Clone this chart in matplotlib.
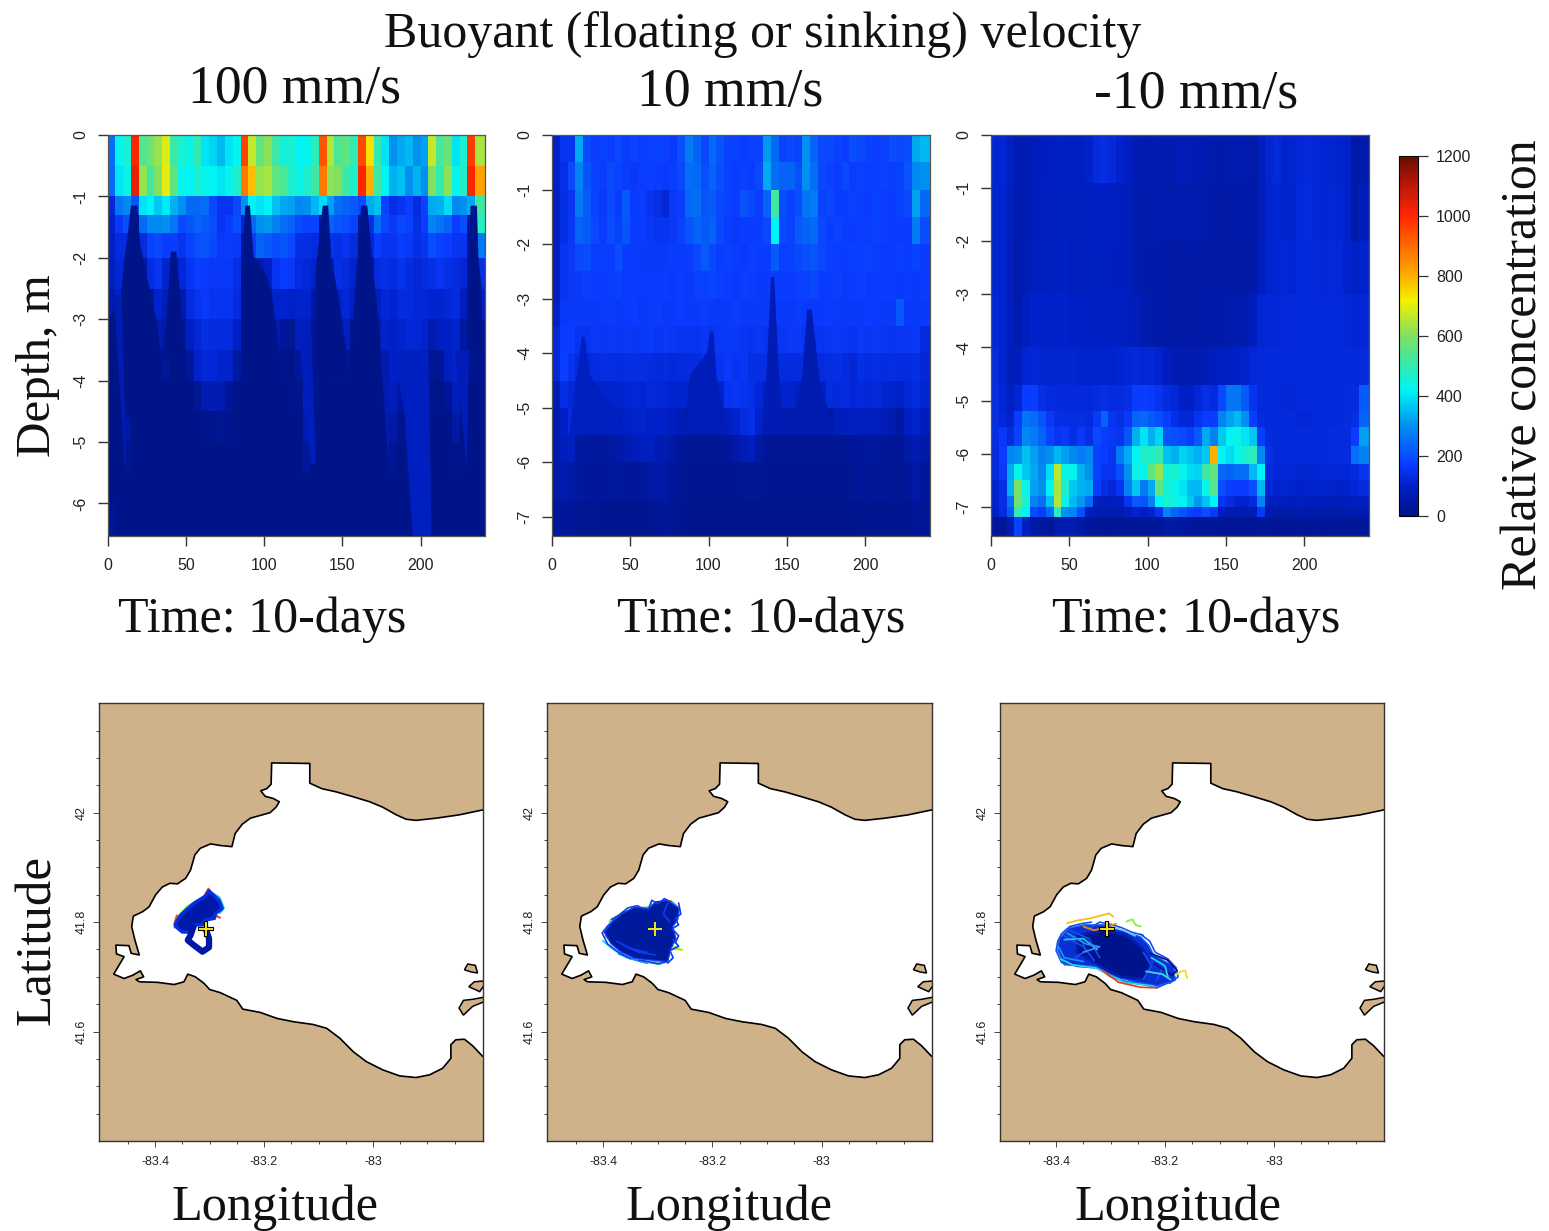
import matplotlib
matplotlib.use('Agg')
import matplotlib.pyplot as plt
from matplotlib.colors import LinearSegmentedColormap, Normalize
from matplotlib.patches import Rectangle
import numpy as np

W, H = 1549, 1231
SERIF = 'Liberation Serif'
SANS = 'Liberation Sans'

# colour bar
bar_stops = [0, 100, 170, 300, 420, 520, 600, 720, 820, 1000, 1100, 1200]
bar_colors = ['#00148a', '#0020c8', '#0a3cff', '#0090f0', '#00f5f5', '#40e8a0', '#80e060', '#f4f000', '#ffa000', '#ff2800', '#c01808', '#6a0c00']

# time bins shared by the three depth panels
time_edges = list(range(0, 240, 5)) + [242]

# 100 mm/s
depth_edges_1 = [0, -0.5, -1, -1.3, -1.6, -2, -2.5, -3, -3.5, -4, -4.5, -5, -5.5, -6, -6.53]
conc_1 = [
    [250,430,460,1010,540,580,620,690,520,460,440,500,400,380,350,400,430,960,670,560,610,520,450,460,420,430,490,930,650,530,560,500,950,740,500,400,300,330,350,300,320,670,530,570,400,460,970,640],
    [240,400,440,1040,620,520,600,700,560,430,420,460,430,420,400,430,470,880,780,620,640,560,530,470,440,470,520,880,610,600,520,470,1000,800,520,420,340,360,300,340,300,600,500,610,430,470,1010,820],
    [120,260,290,210,400,420,370,410,340,300,240,240,250,190,150,150,190,300,420,400,420,360,330,320,290,300,350,390,320,250,230,220,190,330,360,180,140,150,170,130,180,330,340,390,290,300,330,520],
    [110,160,200,15,240,290,290,300,260,190,210,230,220,200,150,170,200,120,240,300,310,280,250,230,190,180,180,30,230,210,200,180,15,140,250,190,160,190,180,140,170,280,260,230,170,200,30,480],
    [100,130,130,10,130,180,190,170,170,150,180,200,210,190,160,170,160,40,170,230,220,200,210,190,140,140,130,15,150,140,150,130,10,120,170,150,150,170,160,140,150,200,180,170,150,150,20,270],
    [90,120,110,5,40,130,150,110,40,120,150,170,170,160,160,160,140,15,40,60,100,150,170,160,130,120,110,10,90,140,130,110,5,30,130,140,130,150,130,120,130,140,150,140,130,120,15,140],
    [60,110,100,0,10,30,110,80,15,60,130,150,160,150,150,150,130,5,10,10,20,110,110,100,110,110,40,0,20,110,120,90,0,5,90,120,110,130,130,120,120,110,110,120,130,80,5,100],
    [5,10,90,0,0,5,70,50,5,20,90,120,140,130,130,130,100,0,0,0,0,60,30,15,90,90,10,0,0,60,90,10,0,0,60,110,100,110,120,120,110,60,90,100,110,40,0,20],
    [0,5,70,0,0,0,5,20,0,0,30,110,120,120,110,110,40,0,0,0,0,20,5,0,30,100,5,0,0,5,20,0,0,0,20,100,100,90,110,120,80,10,20,90,110,10,0,5],
    [0,0,50,0,0,0,0,0,0,0,0,15,70,70,60,20,0,0,0,0,0,0,0,0,5,90,5,0,0,0,0,0,0,0,5,60,80,30,70,100,50,5,0,20,80,5,0,0],
    [0,0,40,0,0,0,0,0,0,0,0,0,5,5,15,5,0,0,0,0,0,0,0,0,0,70,5,0,0,0,0,0,0,0,0,25,50,5,30,90,80,0,0,0,50,0,0,0],
    [0,0,10,0,0,0,0,0,0,0,0,0,0,0,0,0,0,0,0,0,0,0,0,0,0,30,0,0,0,0,0,0,0,0,0,0,10,0,10,60,60,0,0,0,5,0,0,0],
    [0,0,0,0,0,0,0,0,0,0,0,0,0,0,0,0,0,0,0,0,0,0,0,0,0,0,0,0,0,0,0,0,0,0,0,0,0,0,0,40,50,0,0,0,0,0,0,0],
    [20,0,0,0,0,0,0,0,0,0,0,0,0,0,0,0,0,0,0,0,0,0,0,0,0,0,0,0,0,0,0,0,0,0,0,0,0,0,0,30,40,0,0,0,0,0,0,0],
]
# wedges of almost empty water and the thin streaks inside them: (time, depth)
wedges_1 = [
    [(15,-1.15),(19,-1.15),(21,-1.8),(25,-2.3),(28,-2.6),(32,-3.1),(35,-3.9),(35,-4.6),(3,-4.6),(1,-3.0),(8,-2.7),(11,-2.0),(13,-1.6)],
    [(40.5,-1.9),(44,-1.9),(47,-2.8),(50,-3.6),(36,-3.6)],
    [(88,-1.15),(91,-1.15),(93.5,-2),(102,-2.3),(105,-2.6),(110,-3.6),(112,-4.5),(86,-4.5),(85.5,-2.2)],
    [(137.5,-1.15),(141,-1.15),(143,-2),(148,-2.7),(152,-3.4),(155,-4),(135,-4),(133,-3.0),(133,-2.2)],
    [(162,-1.15),(166,-1.15),(169,-2),(173,-3),(178,-4.5),(180,-5.5),(150,-5.5),(156,-3.5),(159,-2.2),(161,-1.7)],
    [(232,-1.15),(236,-1.15),(237,-2),(239,-2.5),(240,-3.5),(230,-3.5),(231,-2)],
]
wedge_levels_1 = [0, 0, 0, 0, 0, 0]
streaks_1 = [
    [(4,-2.6),(9,-2.6),(12,-5.37),(11,-5.37)],
    [(121,-3.0),(130,-3.0),(133,-5.35),(130,-5.35)],
    [(222,-3.5),(231,-3.5),(229.5,-5.4)],
    [(174,-3.5),(180,-3.5),(180,-5.4)],
    [(183,-3.5),(205,-3.5),(207,-6.53),(195,-6.53),(190,-4.6)],
]
streak_levels_1 = [70, 80, 75, 60, 90]

# 10 mm/s
depth_edges_2 = [0, -0.5, -1, -1.5, -2, -2.5, -3, -3.5, -4, -4.5, -5, -5.5, -6, -6.7, -7.35]
conc_2 = [
    [100,150,150,330,190,170,180,170,190,170,180,170,175,180,175,165,200,270,230,190,240,210,180,180,170,175,180,310,240,180,190,180,300,230,190,190,180,170,200,190,180,170,180,200,190,200,330,350],
    [100,145,190,280,210,180,170,190,180,170,160,170,175,170,165,170,190,250,240,200,230,200,180,170,175,170,190,330,250,230,230,200,300,250,190,180,170,190,170,180,170,175,180,170,180,210,290,300],
    [90,140,150,270,220,180,160,190,170,220,170,170,150,140,120,160,170,240,250,210,220,190,180,170,210,190,170,230,520,200,180,200,260,270,180,190,170,170,180,170,170,180,170,170,180,190,320,240],
    [90,140,160,230,220,190,170,200,180,210,170,170,160,150,150,160,180,210,230,220,230,190,170,160,170,170,170,190,420,190,180,220,230,240,190,170,180,170,170,175,170,180,170,170,170,170,270,200],
    [90,150,160,190,200,170,175,170,200,170,170,165,160,160,165,170,170,170,190,220,190,170,175,170,165,175,170,170,220,175,180,190,200,210,190,175,170,170,175,170,180,170,165,170,175,170,180,170],
    [90,150,160,165,175,170,170,170,180,165,170,165,170,165,170,165,170,165,175,180,185,175,170,165,175,170,165,165,170,170,170,175,180,190,170,170,175,165,170,175,165,170,170,170,165,170,165,170],
    [100,160,165,160,165,160,165,170,160,165,170,160,165,170,160,165,170,165,165,170,165,160,165,170,165,160,165,165,165,160,165,170,165,165,165,170,165,160,165,165,170,165,165,160,215,165,160,165],
    [120,170,170,150,150,160,155,160,155,160,155,160,165,155,160,155,150,150,150,155,150,160,165,160,155,150,155,150,150,155,160,160,150,150,150,155,160,155,150,160,155,160,155,150,155,155,160,130],
    [120,175,150,130,125,130,135,135,130,135,135,135,130,125,130,125,130,130,130,140,130,150,165,150,155,140,140,140,130,130,130,130,130,130,130,135,140,130,120,140,130,140,130,135,130,130,140,120],
    [70,140,120,110,110,115,110,110,110,115,120,115,125,120,115,110,110,105,105,105,110,110,150,155,150,145,120,100,90,110,110,100,100,100,100,130,125,130,120,125,120,125,115,110,105,120,130,115],
    [60,100,130,50,50,60,65,70,85,95,105,110,100,105,95,85,70,40,30,30,30,50,90,110,130,145,110,30,50,60,60,40,25,20,25,45,80,85,90,85,90,80,70,60,40,95,110,80],
    [60,80,90,40,35,35,30,40,50,60,75,85,90,70,65,50,30,20,15,15,15,20,30,50,70,85,40,20,15,15,15,15,15,15,15,15,15,20,30,30,35,30,25,20,20,50,70,50],
    [50,60,50,35,30,25,30,25,35,30,30,25,40,55,45,25,15,10,10,10,10,10,10,10,15,15,15,10,10,10,10,10,10,10,10,10,10,10,15,25,20,25,25,20,15,25,50,30],
    [30,25,30,15,10,15,10,10,10,10,10,10,10,20,25,15,10,5,5,5,5,5,5,5,5,5,5,5,5,5,5,5,5,5,5,5,5,5,5,10,10,10,10,10,10,10,20,15],
]
wedges_2 = [
    [(19,-3.7),(21,-3.7),(24,-4.4),(40,-5.0),(45,-5.5),(11,-5.5),(15,-4.6)],
    [(101,-3.6),(103,-3.6),(105,-4.4),(109,-5.0),(113,-5.5),(85,-5.5),(88,-4.4),(99,-4.0)],
    [(140,-2.6),(142,-2.6),(145,-4.4),(148,-5.5),(134,-5.5),(137,-4.4)],
    [(163,-3.2),(166,-3.2),(171,-4.5),(178,-5.2),(180,-5.5),(152,-5.5),(160,-4.4)],
]
wedge_levels_2 = [90, 75, 70, 65]

# -10 mm/s
depth_edges_3 = [0, -0.9, -2, -3, -4, -4.7, -5.2, -5.5, -5.85, -6.2, -6.5, -6.8, -7.0, -7.2, -7.55]
conc_3 = [
    [115,115,90,70,65,75,85,85,95,90,90,90,105,130,135,125,105,95,70,60,65,70,60,70,75,70,70,65,55,55,60,60,60,55,80,115,125,110,115,120,125,120,115,115,110,105,50,60],
    [115,110,90,65,65,75,85,90,90,90,90,90,90,95,95,90,85,80,65,55,60,65,55,60,65,60,60,55,50,50,50,55,55,50,75,110,115,110,110,125,130,120,115,120,115,105,55,80],
    [115,110,85,60,70,85,90,90,90,95,85,90,90,90,90,85,85,80,65,55,55,55,50,50,50,50,55,50,50,50,50,50,50,55,85,110,115,120,115,125,125,125,120,125,120,110,95,110],
    [120,110,85,60,90,105,105,100,105,105,100,100,95,95,95,95,90,85,80,65,55,55,50,50,50,50,50,55,55,55,60,60,65,85,115,120,120,125,125,125,125,125,125,125,125,120,115,120],
    [130,110,80,80,115,120,115,115,115,115,115,110,110,110,110,110,115,120,125,120,120,110,85,70,60,60,65,70,85,90,95,100,110,120,125,125,125,125,125,125,125,125,125,125,125,125,125,130],
    [135,115,90,115,170,170,140,130,125,125,125,125,125,130,140,130,130,140,170,170,165,150,130,120,100,100,120,140,130,190,260,260,220,150,125,125,125,120,120,125,125,125,125,125,125,130,130,220],
    [140,120,110,170,260,250,210,160,140,140,135,135,130,160,230,150,140,160,230,240,220,200,170,140,120,120,150,170,170,280,320,350,300,170,130,125,125,125,125,120,120,125,125,125,125,130,140,230],
    [140,160,130,180,290,270,230,180,150,160,140,160,140,190,170,160,150,210,340,400,340,380,210,200,190,170,220,330,280,370,420,440,400,370,170,130,125,125,125,125,125,125,125,130,130,130,170,320],
    [130,170,290,300,360,320,280,300,350,320,290,270,290,180,170,150,270,330,420,470,470,500,360,340,380,360,340,370,800,420,390,430,460,490,290,140,125,125,125,125,125,125,125,130,130,130,250,280],
    [130,160,330,430,370,330,290,390,660,440,430,340,300,180,150,150,200,300,440,430,560,620,450,460,430,390,380,520,560,240,230,250,250,350,420,130,120,120,120,115,115,115,120,120,120,120,130,150],
    [110,140,340,590,440,320,300,420,640,470,370,340,330,170,140,120,150,280,370,270,330,560,450,430,400,350,350,440,540,200,170,170,170,200,350,120,110,115,110,105,110,110,110,110,100,110,120,130],
    [110,140,260,580,460,280,250,360,650,430,350,310,240,90,80,80,90,150,220,210,280,420,460,440,420,370,310,360,420,150,130,110,110,130,280,80,90,80,80,90,80,80,80,80,75,80,85,90],
    [100,130,220,500,420,190,170,240,480,300,280,200,80,70,60,60,60,80,110,90,110,150,280,230,210,180,170,200,160,90,70,65,60,70,160,60,55,55,55,60,55,55,55,55,55,60,65,65],
    [25,25,70,180,90,50,40,30,60,70,60,50,30,25,20,20,25,25,25,25,25,30,50,45,35,30,30,25,25,20,20,20,20,20,25,25,20,20,20,25,20,25,20,25,25,25,25,30],
]

# western Lake Erie shoreline
shore_lon = [-82.799,-82.842,-82.884,-82.921,-82.939,-82.957,-82.982,-83.006,-83.036,-83.067,-83.094,-83.116,-83.116,-83.186,-83.187,-83.195,-83.206,-83.198,-83.183,-83.172,-83.178,-83.189,-83.207,-83.225,-83.240,-83.253,-83.259,-83.280,-83.298,-83.317,-83.327,-83.335,-83.344,-83.359,-83.373,-83.387,-83.399,-83.411,-83.423,-83.440,-83.443,-83.437,-83.429,-83.444,-83.448,-83.472,-83.471,-83.457,-83.464,-83.476,-83.457,-83.441,-83.427,-83.421,-83.435,-83.429,-83.396,-83.365,-83.347,-83.340,-83.326,-83.310,-83.300,-83.280,-83.250,-83.239,-83.207,-83.176,-83.146,-83.110,-83.085,-83.061,-83.036,-83.012,-82.982,-82.951,-82.921,-82.896,-82.872,-82.857,-82.857,-82.848,-82.832,-82.817,-82.799]
shore_lat = [42.005,41.996,41.990,41.986,41.988,41.996,42.010,42.020,42.029,42.038,42.044,42.054,42.090,42.091,42.052,42.044,42.040,42.030,42.026,42.020,42.010,42.000,41.995,41.990,41.979,41.962,41.938,41.940,41.943,41.935,41.923,41.895,41.880,41.870,41.871,41.864,41.850,41.828,41.819,41.811,41.792,41.767,41.740,41.743,41.757,41.758,41.742,41.737,41.725,41.705,41.697,41.703,41.711,41.700,41.695,41.691,41.690,41.686,41.691,41.705,41.700,41.688,41.677,41.671,41.657,41.641,41.635,41.624,41.618,41.613,41.606,41.588,41.563,41.545,41.530,41.519,41.516,41.521,41.533,41.551,41.576,41.585,41.586,41.574,41.555]

islands = [
    [(-82.826,41.7235),(-82.812,41.721),(-82.808,41.707),(-82.820,41.709),(-82.832,41.713)],
    [(-82.79,41.693),(-82.814,41.691),(-82.824,41.682),(-82.804,41.673),(-82.79,41.693)],
    [(-82.79,41.664),(-82.817,41.659),(-82.834,41.657),(-82.842,41.643),(-82.834,41.630),(-82.817,41.646),(-82.79,41.657)],
]

release_lon, release_lat = -83.306, 41.787

# particle clouds, outlines and the tracks that stick out of them
cloud_1 = [(-83.362,41.798),(-83.353,41.813),(-83.329,41.834),(-83.307,41.848),(-83.301,41.857),(-83.283,41.840),(-83.277,41.825),(-83.289,41.816),(-83.291,41.807),(-83.307,41.804),(-83.313,41.795),(-83.332,41.795),(-83.332,41.782),(-83.350,41.782),(-83.362,41.792)]
loop_1 = [(-83.330,41.790),(-83.335,41.776),(-83.340,41.767),(-83.329,41.758),(-83.313,41.746),(-83.301,41.754),(-83.301,41.770),(-83.305,41.782)]
tracks_1 = [
    [(-83.365,41.790),(-83.360,41.807),(-83.342,41.828),(-83.322,41.840)],
    [(-83.309,41.849),(-83.302,41.861),(-83.295,41.850)],
    [(-83.295,41.853),(-83.282,41.845),(-83.274,41.826),(-83.281,41.817)],
    [(-83.365,41.795),(-83.360,41.812)],
    [(-83.288,41.812),(-83.281,41.808)],
]
track_colors_1 = ['#7fe84a', '#f04a1a', '#19c8f0', '#f04a1a', '#f04a1a']

cloud_2 = [(-83.398,41.782),(-83.383,41.801),(-83.365,41.816),(-83.343,41.827),(-83.316,41.825),(-83.304,41.837),(-83.282,41.840),(-83.261,41.825),(-83.264,41.804),(-83.273,41.792),(-83.267,41.770),(-83.276,41.752),(-83.282,41.728),(-83.316,41.731),(-83.343,41.734),(-83.368,41.746),(-83.386,41.761)]
tracks_2 = [
    [(-83.401,41.766),(-83.380,41.749),(-83.359,41.736),(-83.331,41.728),(-83.295,41.723)],
    [(-83.279,41.758),(-83.255,41.749),(-83.276,41.752)],
    [(-83.389,41.801),(-83.368,41.816),(-83.340,41.825),(-83.316,41.828)],
    [(-83.295,41.836),(-83.276,41.839),(-83.261,41.825),(-83.264,41.807)],
    [(-83.313,41.834),(-83.304,41.825),(-83.289,41.840),(-83.270,41.834),(-83.263,41.816),(-83.276,41.798),(-83.270,41.773)],
    [(-83.398,41.785),(-83.394,41.773),(-83.376,41.757)],
    [(-83.372,41.742),(-83.345,41.732),(-83.320,41.725)],
    [(-83.310,41.727),(-83.285,41.729)],
]
track_colors_2 = ['#19d8e8', '#a8ee30', '#7fe84a', '#f08018', '#19c8f0', '#e84020', '#1890f0', '#f09018']
fringe_2 = [
    [(-83.385,41.805),(-83.372,41.812),(-83.355,41.826),(-83.338,41.830),(-83.325,41.824)],
    [(-83.318,41.822),(-83.311,41.840),(-83.300,41.833),(-83.288,41.843),(-83.276,41.836)],
    [(-83.262,41.835),(-83.258,41.815),(-83.268,41.806),(-83.262,41.795),(-83.274,41.788),(-83.262,41.775),(-83.268,41.762)],
    [(-83.272,41.768),(-83.262,41.756),(-83.278,41.748),(-83.272,41.735),(-83.282,41.725)],
    [(-83.285,41.727),(-83.300,41.724),(-83.318,41.728),(-83.335,41.731)],
    [(-83.350,41.733),(-83.372,41.745),(-83.392,41.760),(-83.402,41.780),(-83.392,41.793),(-83.378,41.806)],
    [(-83.375,41.765),(-83.350,41.752),(-83.320,41.745)],
    [(-83.362,41.757),(-83.335,41.745),(-83.305,41.740)],
    [(-83.282,41.835),(-83.290,41.815),(-83.278,41.800)],
]

cloud_3 = [(-83.394,41.770),(-83.376,41.789),(-83.349,41.795),(-83.312,41.795),(-83.282,41.786),(-83.245,41.773),(-83.230,41.758),(-83.221,41.740),(-83.184,41.719),(-83.181,41.694),(-83.215,41.683),(-83.257,41.691),(-83.300,41.703),(-83.327,41.719),(-83.385,41.722),(-83.397,41.749)]
core_3 = [(-83.360,41.776),(-83.312,41.785),(-83.269,41.775),(-83.240,41.750),(-83.226,41.722),(-83.240,41.695),(-83.282,41.700),(-83.324,41.722),(-83.362,41.745)]
tracks_3 = [
    [(-83.380,41.798),(-83.361,41.803),(-83.337,41.807),(-83.303,41.816),(-83.295,41.810)],
    [(-83.181,41.703),(-83.172,41.709),(-83.163,41.712),(-83.159,41.697)],
    [(-83.271,41.801),(-83.260,41.805),(-83.254,41.795),(-83.245,41.792)],
    [(-83.227,41.743),(-83.196,41.731),(-83.178,41.712),(-83.187,41.703),(-83.221,41.725)],
    [(-83.392,41.733),(-83.370,41.722),(-83.327,41.716),(-83.275,41.690),(-83.221,41.683)],
    [(-83.385,41.768),(-83.350,41.770),(-83.325,41.750)],
    [(-83.396,41.755),(-83.385,41.735),(-83.350,41.728)],
    [(-83.350,41.792),(-83.330,41.785),(-83.312,41.790),(-83.290,41.797)],
    [(-83.315,41.712),(-83.285,41.690),(-83.245,41.681),(-83.215,41.680)],
    [(-83.225,41.735),(-83.200,41.720),(-83.195,41.700)],
    [(-83.296,41.790),(-83.275,41.785),(-83.255,41.775)],
    [(-83.380,41.780),(-83.345,41.760),(-83.320,41.755),(-83.350,41.745)],
    [(-83.235,41.710),(-83.205,41.705),(-83.190,41.695)],
]
track_colors_3 = ['#f0c018', '#f0e020', '#8ce840', '#10108a', '#19d8e8', '#19c8f0', '#1890f0', '#f08018', '#e84020', '#19d8e8', '#80c8f0', '#2a90f0', '#40d8e0']
fringe_3 = [
    [(-83.397,41.765),(-83.390,41.779),(-83.375,41.792),(-83.355,41.797),(-83.335,41.800)],
    [(-83.340,41.788),(-83.320,41.800),(-83.300,41.796),(-83.280,41.790),(-83.262,41.782),(-83.240,41.776)],
    [(-83.245,41.778),(-83.228,41.765),(-83.218,41.745),(-83.195,41.733),(-83.180,41.717),(-83.176,41.700),(-83.192,41.688)],
    [(-83.192,41.690),(-83.215,41.680),(-83.245,41.688),(-83.270,41.691),(-83.300,41.700),(-83.322,41.716),(-83.360,41.719),(-83.390,41.726),(-83.400,41.748),(-83.397,41.765)],
    [(-83.385,41.775),(-83.350,41.755),(-83.330,41.730)],
    [(-83.375,41.785),(-83.340,41.770),(-83.320,41.735)],
    [(-83.365,41.735),(-83.345,41.748),(-83.355,41.770)],
    [(-83.225,41.728),(-83.205,41.715),(-83.215,41.695)],
    [(-83.240,41.745),(-83.225,41.720),(-83.240,41.695)],
]

time_ticks = [0, 50, 100, 150, 200]
depth_ticks_1 = [0, -1, -2, -3, -4, -5, -6]
depth_ticks_2 = [0, -1, -2, -3, -4, -5, -6, -7]
bar_ticks = [0, 200, 400, 600, 800, 1000, 1200]
lon_ticks = [-83.4, -83.2, -83.0]
lon_labels = ['-83.4', '-83.2', '-83']
lat_ticks = [41.6, 41.8, 42.0]
lat_labels = ['41.6', '41.8', '42']

bar_cmap = LinearSegmentedColormap.from_list('bar', [(s / 1200, c) for s, c in zip(bar_stops, bar_colors)], N=256)
bar_norm = Normalize(0, 1200)


def px_axes(fig, x0, y0, x1, y1):
    return fig.add_axes([x0 / W, 1 - y1 / H, (x1 - x0) / W, (y1 - y0) / H])


def label(fig, x, y, s, size=36, rot=0):
    fig.text(x / W, 1 - y / H, s, ha='center', va='center', fontsize=size,
             family=SERIF, rotation=rot, color='#111111')


def depth_panel(fig, box, edges, conc, ticks):
    ax = px_axes(fig, *box)
    mesh = ax.pcolormesh(time_edges, edges, np.array(conc), cmap=bar_cmap, norm=bar_norm,
                         shading='flat', antialiased=False, linewidth=0)
    ax.set_xlim(0, 241.5)
    ax.set_ylim(edges[-1], 0)
    ax.set_xticks(time_ticks)
    ax.set_yticks(ticks)
    ax.set_yticklabels([str(t) for t in ticks], rotation=90, va='center')
    ax.tick_params(length=7, width=1, color='#333333', labelsize=11.5, labelcolor='#222222')
    ax.tick_params(axis='x', pad=9)
    ax.tick_params(axis='y', pad=7)
    for lab in ax.get_xticklabels() + ax.get_yticklabels():
        lab.set_family(SANS)
    for s in ax.spines.values():
        s.set_color('#555555')
        s.set_linewidth(0.9)
    return ax, mesh


def add_wedges(ax, wedges, levels):
    for wedge, level in zip(wedges, levels):
        ax.fill([p[0] for p in wedge], [p[1] for p in wedge], color=bar_cmap(bar_norm(level)), lw=0, zorder=3)


def map_panel(fig, box):
    ax = px_axes(fig, *box)
    ax.set_facecolor('#d0b28a')
    ax.fill(shore_lon + [-82.78, -82.78], shore_lat + [41.555, 42.005], facecolor='white', edgecolor='none', zorder=1)
    ax.plot(shore_lon, shore_lat, color='black', lw=1.2, zorder=2, solid_joinstyle='round')
    for isl in islands:
        ax.fill([p[0] for p in isl], [p[1] for p in isl], facecolor='#d0b28a', edgecolor='black', lw=1.1, zorder=2)
    ax.set_xlim(-83.503, -82.798)
    ax.set_ylim(41.4, 42.2005)
    ax.set_xticks(lon_ticks)
    ax.set_xticklabels(lon_labels)
    ax.set_yticks(lat_ticks)
    ax.set_yticklabels(lat_labels, rotation=90, va='center')
    ax.set_xticks(np.arange(-83.45, -82.82, 0.05), minor=True)
    ax.set_yticks(np.arange(41.45, 42.2, 0.05), minor=True)
    ax.tick_params(which='major', length=4, width=0.7, color='#444444', labelsize=9, labelcolor='#222222')
    ax.tick_params(which='minor', length=2.5, width=0.7, color='#444444')
    ax.tick_params(axis='x', which='major', pad=7)
    ax.tick_params(axis='y', which='major', pad=4)
    for lab in ax.get_xticklabels() + ax.get_yticklabels():
        lab.set_family(SANS)
    for s in ax.spines.values():
        s.set_color('#333333')
        s.set_linewidth(1.0)
    return ax


def draw_cloud(ax, outline, face, edge, lw):
    ax.fill([p[0] for p in outline], [p[1] for p in outline], facecolor=face, edgecolor=edge, lw=lw, zorder=4, joinstyle='round')


def draw_tracks(ax, tracks, colors, lw=1.0, z=3.5):
    for tr, c in zip(tracks, colors):
        ax.plot([p[0] for p in tr], [p[1] for p in tr], color=c, lw=lw, zorder=z,
                solid_capstyle='round', solid_joinstyle='round')


def draw_release(ax, outlined):
    if outlined:
        ax.plot(release_lon, release_lat, marker='+', ms=11, mew=3, color='black', zorder=6)
    ax.plot(release_lon, release_lat, marker='+', ms=10, mew=1.4, color='#f5e31e', zorder=7)


fig = plt.figure(figsize=(W / 100, H / 100), dpi=100, facecolor='white')

hm1, mesh = depth_panel(fig, (107.5, 135, 485.5, 536), depth_edges_1, conc_1, depth_ticks_1)
add_wedges(hm1, wedges_1, wedge_levels_1)
add_wedges(hm1, streaks_1, streak_levels_1)
hm2, _ = depth_panel(fig, (552, 135, 930, 536), depth_edges_2, conc_2, depth_ticks_2)
add_wedges(hm2, wedges_2, wedge_levels_2)
depth_panel(fig, (991, 135, 1369, 536), depth_edges_3, conc_3, depth_ticks_2)

cax = px_axes(fig, 1399, 156, 1418, 516)
cb = fig.colorbar(mesh, cax=cax, ticks=bar_ticks)
cb.outline.set_linewidth(0.8)
cax.tick_params(length=7, width=0.9, color='#333333', labelsize=11.5, labelcolor='#222222', pad=6)
for lab in cax.get_yticklabels():
    lab.set_family(SANS)

ax1 = map_panel(fig, (99, 703, 483, 1141))
draw_tracks(ax1, tracks_1, track_colors_1, 1.6)
draw_cloud(ax1, cloud_1, '#0018a8', '#0030e0', 2.5)
ax1.plot([p[0] for p in loop_1], [p[1] for p in loop_1], color='#0018a8', lw=4.5, zorder=4, solid_joinstyle='round')
draw_release(ax1, True)

ax2 = map_panel(fig, (547, 703, 932, 1141))
draw_tracks(ax2, tracks_2, track_colors_2, 1.3)
draw_cloud(ax2, cloud_2, '#001a9c', '#0a3cf0', 1.0)
draw_tracks(ax2, fringe_2, ['#0a3cf0'] * len(fringe_2), 1.2, 4.5)
draw_release(ax2, False)

ax3 = map_panel(fig, (1000, 703, 1384, 1141))
draw_cloud(ax3, cloud_3, '#0a30d4', '#1060f0', 1.0)
draw_cloud(ax3, core_3, '#00128c', '#0020b0', 2)
draw_tracks(ax3, fringe_3, ['#1450f0'] * len(fringe_3), 1.2, 4.5)
draw_tracks(ax3, tracks_3, track_colors_3, 1.3, 5)
draw_release(ax3, True)

label(fig, 763, 35, 'Buoyant (floating or sinking) velocity', 36)
label(fig, 295, 90, '100 mm/s', 38.6)
label(fig, 730, 93, '10 mm/s', 38.6)
label(fig, 1196, 95, '-10 mm/s', 38.6)
for x in [262, 761, 1196]:
    label(fig, x, 620, 'Time: 10-days', 36)
for x in [275, 729, 1178]:
    label(fig, x, 1208, 'Longitude', 36.3)
label(fig, 38, 366, 'Depth, m', 35.4, 90)
label(fig, 38, 940, 'Latitude', 36.8, 90)
label(fig, 1524, 365, 'Relative concentration', 36, 90)

# the longitude numbers are cut off at the bottom in the source image
fig.add_artist(Rectangle((0, 1 - 1176 / H), 1, 9.5 / H, transform=fig.transFigure,
                         facecolor='white', edgecolor='none', zorder=10))

fig.savefig('out.png', dpi=100)
